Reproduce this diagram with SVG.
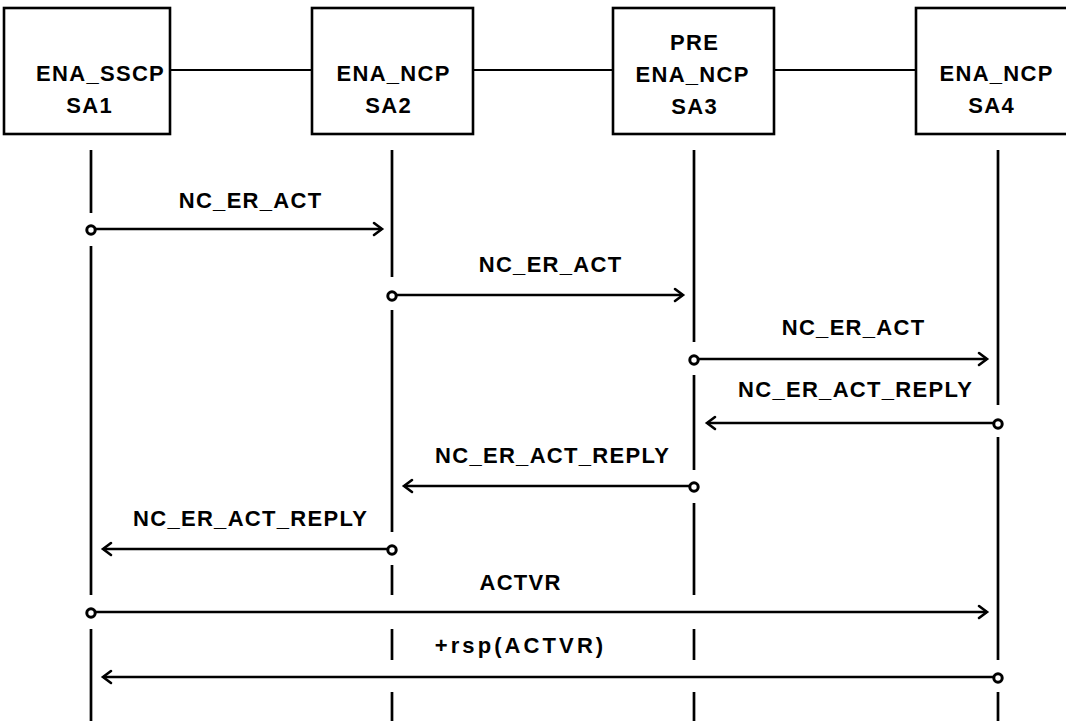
<svg xmlns="http://www.w3.org/2000/svg" width="1066" height="721" viewBox="0 0 1066 721">
  <style>
    .box { fill: #fff; stroke: #000; stroke-width: 2.6; }
    .link { stroke: #000; stroke-width: 2.2; fill: none; }
    .life { stroke: #000; stroke-width: 2.7; fill: none; }
    .msg { stroke: #000; stroke-width: 2.3; fill: none; }
    .dot { fill: #fff; stroke: #000; stroke-width: 3; }
    text { font-family: "Liberation Sans", Arial, sans-serif; font-weight: bold; font-size: 22px; letter-spacing: 1.3px; fill: #000; text-anchor: middle; }
    .lc { letter-spacing: 3.1px; }
  </style>
  <defs>
    <marker id="arr" markerUnits="userSpaceOnUse" markerWidth="12" markerHeight="16" refX="9" refY="7" orient="auto" overflow="visible">
      <path d="M1,1 L9,7 L1,13" fill="none" stroke="#000" stroke-width="2.6" stroke-linecap="round" stroke-linejoin="miter"/>
    </marker>
  </defs>
  <rect width="1066" height="721" fill="#fff"/>

  <g id="links">
    <line class="link" x1="170" y1="70" x2="312" y2="70"/>
    <line class="link" x1="473" y1="70" x2="613" y2="70"/>
    <line class="link" x1="774" y1="70" x2="916" y2="70"/>
  </g>

  <g id="node-sa1">
    <rect class="box" x="4" y="8" width="166" height="126"/>
    <text x="100.6" y="81">ENA_SSCP</text>
    <text x="89.6" y="113">SA1</text>
  </g>
  <g id="node-sa2">
    <rect class="box" x="312" y="8" width="161" height="126"/>
    <text x="393.6" y="81">ENA_NCP</text>
    <text x="388.6" y="113">SA2</text>
  </g>
  <g id="node-sa3">
    <rect class="box" x="613" y="8" width="161" height="126"/>
    <text x="694.6" y="50">PRE</text>
    <text x="692.6" y="82">ENA_NCP</text>
    <text x="694.6" y="114">SA3</text>
  </g>
  <g id="node-sa4">
    <rect class="box" x="916" y="8" width="166" height="126"/>
    <text x="996.6" y="81">ENA_NCP</text>
    <text x="991.6" y="113">SA4</text>
  </g>

  <g id="lifelines">
    <path class="life" d="M91,150 V213 M91,246 V595 M91,629 V721"/>
    <path class="life" d="M392,150 V277 M392,310 V532 M392,565 V595 M392,629 V660 M392,692 V721"/>
    <path class="life" d="M694,150 V342 M694,375 V470 M694,503 V595 M694,629 V660 M694,692 V721"/>
    <path class="life" d="M998,150 V405 M998,437 V660 M998,692 V721"/>
  </g>

  <g id="connectors">
    <line class="msg" x1="96" y1="229" x2="382" y2="229" marker-end="url(#arr)"/>
    <circle class="dot" cx="91" cy="230" r="4.2"/>

    <line class="msg" x1="397" y1="295" x2="683" y2="295" marker-end="url(#arr)"/>
    <circle class="dot" cx="392" cy="296" r="4.2"/>

    <line class="msg" x1="699" y1="359" x2="987" y2="359" marker-end="url(#arr)"/>
    <circle class="dot" cx="694" cy="360" r="4.2"/>

    <line class="msg" x1="993" y1="423" x2="707" y2="423" marker-end="url(#arr)"/>
    <circle class="dot" cx="998" cy="424" r="4.2"/>

    <line class="msg" x1="689" y1="486" x2="404" y2="486" marker-end="url(#arr)"/>
    <circle class="dot" cx="694" cy="487" r="4.2"/>

    <line class="msg" x1="387" y1="549" x2="103" y2="549" marker-end="url(#arr)"/>
    <circle class="dot" cx="392" cy="550" r="4.2"/>

    <line class="msg" x1="96" y1="612" x2="987" y2="612" marker-end="url(#arr)"/>
    <circle class="dot" cx="91" cy="613" r="4.2"/>

    <line class="msg" x1="993" y1="677" x2="103" y2="677" marker-end="url(#arr)"/>
    <circle class="dot" cx="998" cy="678" r="4.2"/>
  </g>

  <g id="labels">
    <text x="250.6" y="208">NC_ER_ACT</text>
    <text x="550.6" y="272">NC_ER_ACT</text>
    <text x="853.6" y="335">NC_ER_ACT</text>
    <text x="855.6" y="397">NC_ER_ACT_REPLY</text>
    <text x="552.6" y="463">NC_ER_ACT_REPLY</text>
    <text x="250.6" y="526">NC_ER_ACT_REPLY</text>
    <text x="520.6" y="590">ACTVR</text>
    <text class="lc" x="520.5" y="653">+rsp(ACTVR)</text>
  </g>
</svg>
